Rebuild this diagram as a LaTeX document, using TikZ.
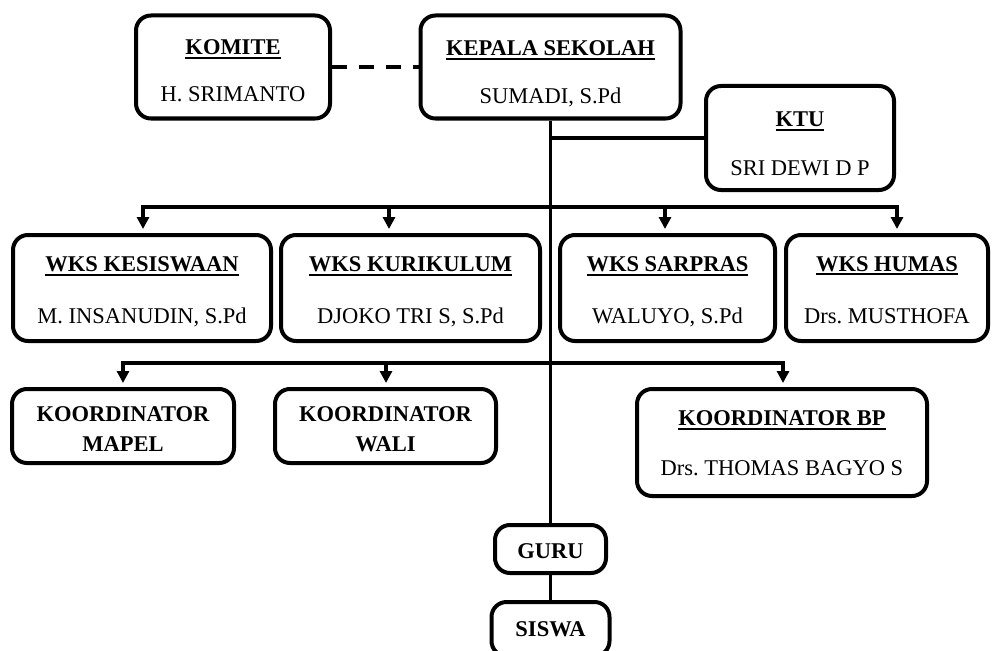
\documentclass[tikz,border=0pt]{standalone}
\usepackage{fontspec}
\setmainfont{Liberation Serif}
\usetikzlibrary{arrows.meta}

% judul bergaris bawah
\newcommand{\judul}[2][23pt]{\begingroup\rule{0pt}{#1}\sbox0{\bfseries #2}\rlap{\rule[-3.8pt]{\wd0}{1.8pt}}\usebox0\endgroup}

\begin{document}
\begin{tikzpicture}[x=1pt, y=-1pt,
    kotak/.style={draw, line width=4pt, rounded corners=15pt, inner sep=0pt, align=center, font=\fontsize{22.5}{26}\selectfont},
    kotaktebal/.style={kotak, font=\fontsize{22.5}{26}\selectfont\bfseries},
    garis/.style={line width=3.5pt},
    panah/.style={line width=3.5pt, -{Triangle[width=12pt, length=12pt]}, shorten >=4pt}]

    \clip (0,0) rectangle (992,650);

    % Komite dan kepala sekolah
    \node[kotak, minimum width=194pt, minimum height=103pt] at (233, 67) (komite) {\judul{KOMITE}\\[21pt]H. SRIMANTO};
    \node[kotak, minimum width=260pt, minimum height=103pt] at (550.5, 67) (kepala) {\judul[29pt]{KEPALA SEKOLAH}\\[22pt]SUMADI, S.Pd};

    % KTU
    \node[kotak, minimum width=188pt, minimum height=104pt] at (800, 138) (ktu) {\judul[27pt]{KTU}\\[23pt]SRI DEWI D P};

    % Wakil kepala sekolah
    \node[kotak, minimum width=258pt, minimum height=106pt] at (142, 288) (kes) {\judul{WKS KESISWAAN}\\[26pt]M. INSANUDIN, S.Pd};
    \node[kotak, minimum width=259pt, minimum height=106pt] at (410.5, 288) (kur) {\judul{WKS KURIKULUM}\\[26pt]DJOKO TRI S, S.Pd};
    \node[kotak, minimum width=215pt, minimum height=106pt] at (667.5, 288) (sar) {\judul{WKS SARPRAS}\\[26pt]WALUYO, S.Pd};
    \node[kotak, minimum width=202pt, minimum height=106pt] at (887, 288) (hum) {\judul[19pt]{WKS HUMAS}\\[26pt]Drs.\ MUSTHOFA};

    % Koordinator
    \node[kotaktebal, minimum width=222pt, minimum height=74pt] at (123, 426) (mapel) {\rule{0pt}{21pt}KOORDINATOR\\[4pt]MAPEL};
    \node[kotaktebal, minimum width=221pt, minimum height=74pt] at (385.5, 426) (wali) {\rule{0pt}{21pt}KOORDINATOR\\[4pt]WALI};
    \node[kotak, minimum width=290pt, minimum height=107pt] at (782, 442.5) (bp) {\judul[17pt]{KOORDINATOR BP}\\[24pt]Drs.\ THOMAS BAGYO S};

    % Guru dan siswa
    \node[kotaktebal, minimum width=111pt, minimum height=48pt] at (550.5, 549) (guru) {\rule{0pt}{19pt}GURU};
    \node[kotaktebal, minimum width=118pt, minimum height=54pt] at (550.5, 629) (siswa) {SISWA};

    % Garis
    \draw[garis, dash pattern=on 15pt off 12pt] (komite.east) -- (kepala.west);
    \draw[garis] (kepala.south) -- (guru.north);
    \draw[garis] (guru.south) -- (siswa.north);
    \draw[garis] (kepala.south |- ktu.west) -- (ktu.west);

    % Cabang WKS
    \coordinate (busA) at (143, 207);
    \coordinate (busB) at (897, 207);
    \draw[garis, line cap=rect] (busA) -- (busB);
    \foreach \x/\n in {143/kes, 389/kur, 665/sar, 897/hum} {
        \coordinate (tap) at (\x, 207);
        \draw[panah] (tap) -- (tap |- \n.north);
    }

    % Cabang koordinator
    \coordinate (busC) at (123, 363);
    \coordinate (busD) at (783, 363);
    \draw[garis, line cap=rect] (busC) -- (busD);
    \foreach \x/\n in {123/mapel, 386/wali, 783/bp} {
        \coordinate (tap) at (\x, 363);
        \draw[panah] (tap) -- (tap |- \n.north);
    }
\end{tikzpicture}
\end{document}
